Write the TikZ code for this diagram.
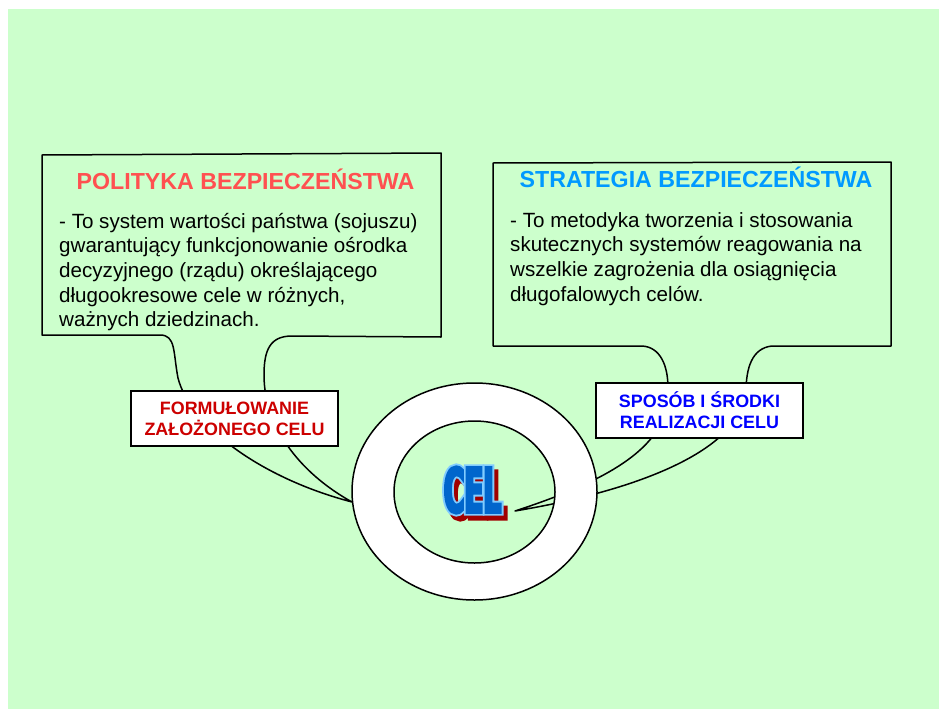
\documentclass[tikz,border=0pt]{standalone}
\usepackage{fontspec}
\setmainfont{Liberation Sans}
\newfontfamily\celfont{DejaVu Sans Bold}[FakeStretch=0.45, FakeBold=4]
\newfontfamily\celfontedge{DejaVu Sans Bold}[FakeStretch=0.45, FakeBold=10]
\usetikzlibrary{calc}
\definecolor{bggreen}{HTML}{CCFFCC}
\definecolor{polred}{HTML}{FF5050}
\definecolor{strblue}{HTML}{0099FF}
\definecolor{lblred}{HTML}{CC0000}
\definecolor{lblblue}{HTML}{0000FF}
\definecolor{celblue}{HTML}{0066CC}
\definecolor{celedge}{HTML}{80CCFF}
\definecolor{celred}{HTML}{A00000}

\begin{document}
\begin{tikzpicture}[x=1pt, y=-1pt,
    callout/.style={draw, line width=1.5pt, fill=bggreen, line join=round},
    labelbox/.style={rectangle, draw, line width=1.6pt, fill=white, minimum width=207pt, minimum height=55pt, align=center, font=\bfseries\fontsize{17.9}{21}\selectfont},
    titletext/.style={anchor=base, inner sep=0pt, font=\bfseries\fontsize{23.2}{28}\selectfont},
    bodytext/.style={anchor=base west, align=left, inner sep=0pt, font=\fontsize{20.6}{24.7}\selectfont},
    celtext/.style={inner sep=0pt, font=\celfont\fontsize{62}{62}\selectfont},
    celouter/.style={inner sep=0pt, font=\celfontedge\fontsize{62}{62}\selectfont}]
    \useasboundingbox (0,0) rectangle (939,709);
    \fill[bggreen] (8,9) rectangle (939,709);

    % Left callout
    \draw[callout] (42,155) -- (441,153) -- (441,337) -- (292,336)
        .. controls (270,336) and (264,350) .. (264,375)
        .. controls (264,425) and (298,472) .. (352,502)
        .. controls (260,478) and (190,425) .. (178,378)
        .. controls (173,352) and (176,335) .. (160,335) -- (42,335) -- cycle;

    % Right callout
    \coordinate (TIP) at (515,511);
    \draw[callout] (493,163) -- (891,162) -- (891,346) -- (772,346)
        .. controls (752,348) and (746,368) .. (746,392)
        .. controls (740,450) and (640,490) .. (TIP)
        .. controls (610,480) and (672,445) .. (668,388)
        .. controls (668,365) and (660,347) .. (642,346) -- (493,346) -- cycle;

    % Ring
    \draw[line width=1.5pt, fill=white, even odd rule]
        (474.5,491.5) ellipse [x radius=122.5pt, y radius=108.5pt]
        (474.5,492) ellipse [x radius=80.5pt, y radius=71pt];

    % Labels
    \node[labelbox, text=lblred] (FORM) at (234.5,418.5) {FORMUŁOWANIE\\ZAŁOŻONEGO CELU};
    \node[labelbox, text=lblblue] (SPOS) at (699.5,410.5) {SPOSÓB I ŚRODKI\\REALIZACJI CELU};

    % Titles and texts (base = last line)
    \node[titletext, text=polred] (POLTITLE) at (245.5,189) {POLITYKA BEZPIECZEŃSTWA};
    \node[bodytext] (POLTEXT) at (59,326.8) {- To system wartości państwa (sojuszu)\\gwarantujący funkcjonowanie ośrodka\\decyzyjnego (rządu) określającego\\długookresowe cele w różnych,\\ważnych dziedzinach.};
    \node[titletext, text=strblue] (STRTITLE) at (696,187.5) {STRATEGIA BEZPIECZEŃSTWA};
    \node[bodytext] (STRTEXT) at (510,301.1) {- To metodyka tworzenia i stosowania\\skutecznych systemów reagowania na\\wszelkie zagrożenia dla osiągnięcia\\długofalowych celów.};

    % CEL: shadow, light edge, blue face
    \node[celouter, text=celred] (CELSH) at (476.5,495) {CEL};
    \node[celouter, text=celedge] (CELED) at (472.5,490) {CEL};
    \node[celtext, text=celblue] (CEL) at (472.5,490) {CEL};
\end{tikzpicture}
\end{document}
